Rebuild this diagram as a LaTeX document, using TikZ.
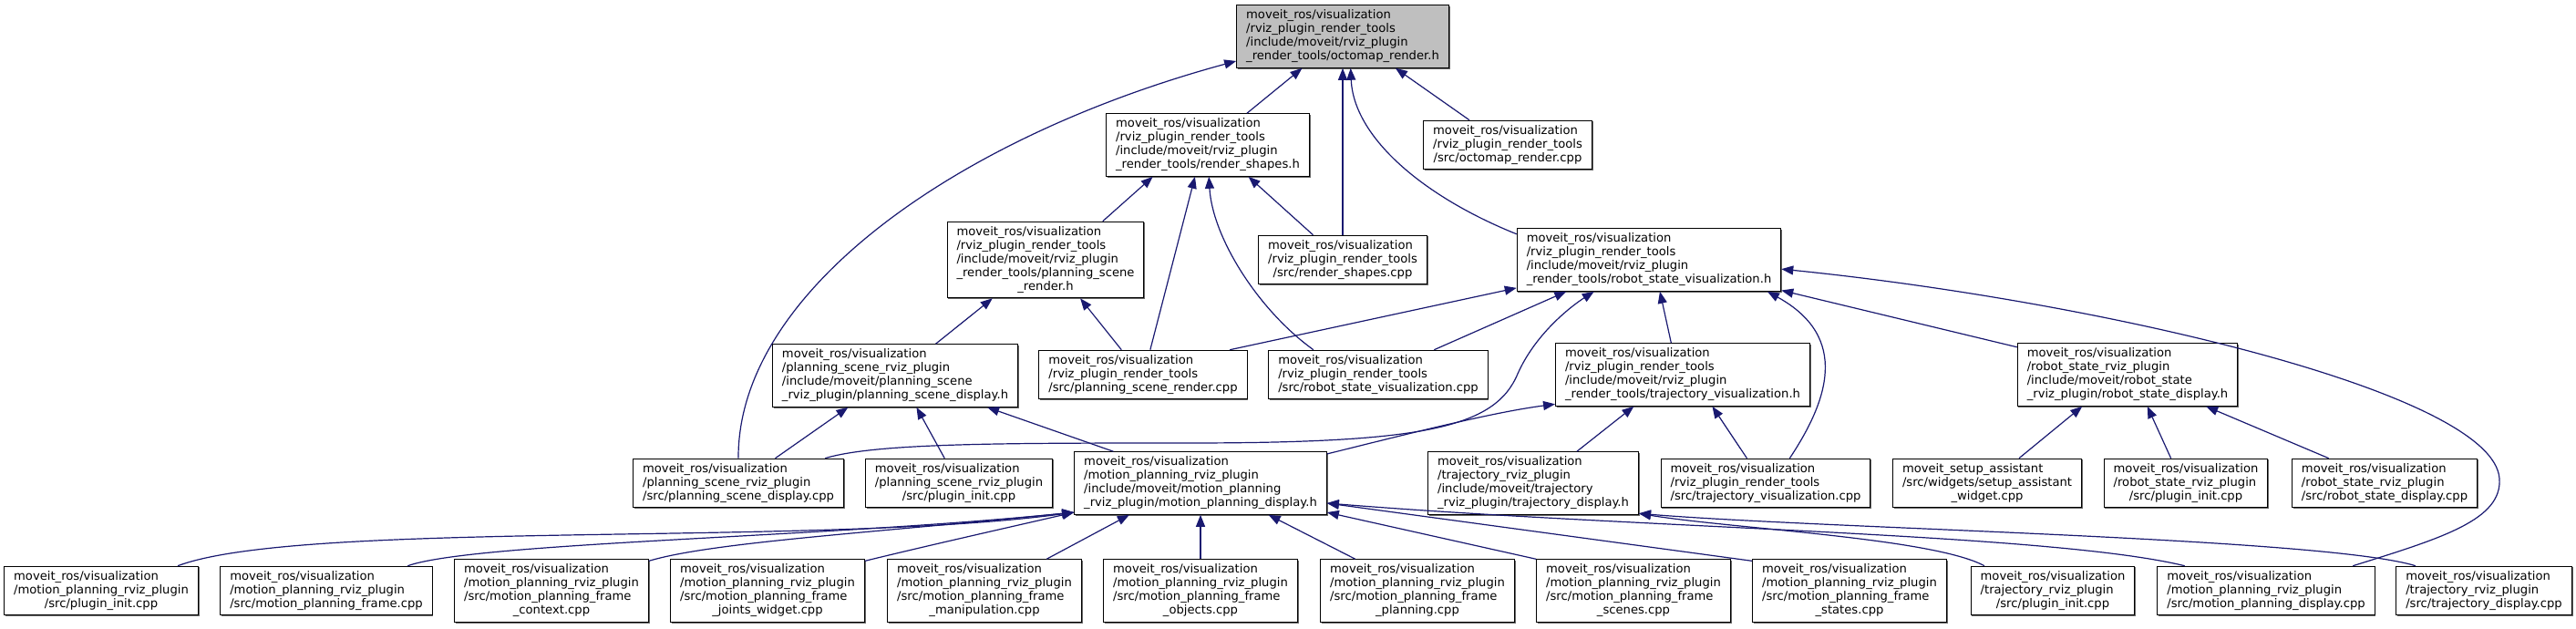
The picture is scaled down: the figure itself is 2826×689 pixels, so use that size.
\documentclass[tikz,border=0pt]{standalone}
\usepackage{fontspec}
\setmainfont{DejaVu Sans}
\usepackage{tikz}
\usetikzlibrary{arrows.meta,shadows}
\usepackage{xcolor}
\definecolor{edgeblue}{RGB}{25,25,112}
\definecolor{rootgrey}{RGB}{191,191,191}

% box label: all lines left, last line centred
\newcommand{\flbl}[2]{\begin{tabular}{@{}l@{}}#1\\\multicolumn{1}{@{}c@{}}{#2}\end{tabular}}

\begin{document}
\begin{tikzpicture}[
    x=1pt, y=-1pt,
    incbox/.style={rectangle, draw=black, line width=1pt, fill=white,
        inner xsep=10.5pt, inner ysep=4.3pt,
        font=\fontsize{13.15pt}{15pt}\selectfont,
        drop shadow={shadow xshift=1.2pt, shadow yshift=-1.2pt, opacity=0.6, fill=black}},
    rootbox/.style={incbox, fill=rootgrey},
    arr/.style={-{Triangle[length=13pt, width=10pt]}, line width=1.2pt, edgeblue}
]
    \useasboundingbox (0,0) rectangle (2826,689);

    % top
    \node[rootbox] (root) at (1473,40) {\flbl{moveit\_ros/visualization\\/rviz\_plugin\_render\_tools\\/include/moveit/rviz\_plugin}{\_render\_tools/octomap\_render.h}};
    \node[incbox] (rsh) at (1325,159) {\flbl{moveit\_ros/visualization\\/rviz\_plugin\_render\_tools\\/include/moveit/rviz\_plugin}{\_render\_tools/render\_shapes.h}};
    \node[incbox] (ocpp) at (1654,159) {\flbl{moveit\_ros/visualization\\/rviz\_plugin\_render\_tools}{/src/octomap\_render.cpp}};

    \node[incbox] (psrh) at (1147,285) {\flbl{moveit\_ros/visualization\\/rviz\_plugin\_render\_tools\\/include/moveit/rviz\_plugin\\\_render\_tools/planning\_scene}{\_render.h}};
    \node[incbox] (rscpp) at (1473,285) {\flbl{moveit\_ros/visualization\\/rviz\_plugin\_render\_tools}{/src/render\_shapes.cpp}};
    \node[incbox] (rsvh) at (1809,285) {\flbl{moveit\_ros/visualization\\/rviz\_plugin\_render\_tools\\/include/moveit/rviz\_plugin}{\_render\_tools/robot\_state\_visualization.h}};

    \node[incbox] (psdh) at (982,412) {\flbl{moveit\_ros/visualization\\/planning\_scene\_rviz\_plugin\\/include/moveit/planning\_scene}{\_rviz\_plugin/planning\_scene\_display.h}};
    \node[incbox] (psrcpp) at (1254,411) {\flbl{moveit\_ros/visualization\\/rviz\_plugin\_render\_tools}{/src/planning\_scene\_render.cpp}};
    \node[incbox] (rsvcpp) at (1512,411) {\flbl{moveit\_ros/visualization\\/rviz\_plugin\_render\_tools}{/src/robot\_state\_visualization.cpp}};
    \node[incbox] (tvh) at (1846,411) {\flbl{moveit\_ros/visualization\\/rviz\_plugin\_render\_tools\\/include/moveit/rviz\_plugin}{\_render\_tools/trajectory\_visualization.h}};
    \node[incbox] (rsdh) at (2334,411) {\flbl{moveit\_ros/visualization\\/robot\_state\_rviz\_plugin\\/include/moveit/robot\_state}{\_rviz\_plugin/robot\_state\_display.h}};

    % middle row
    \node[incbox] (psdcpp) at (810,530) {\flbl{moveit\_ros/visualization\\/planning\_scene\_rviz\_plugin}{/src/planning\_scene\_display.cpp}};
    \node[incbox] (psinit) at (1052,530) {\flbl{moveit\_ros/visualization\\/planning\_scene\_rviz\_plugin}{/src/plugin\_init.cpp}};
    \node[incbox] (mpdh) at (1317,530) {\flbl{moveit\_ros/visualization\\/motion\_planning\_rviz\_plugin\\/include/moveit/motion\_planning}{\_rviz\_plugin/motion\_planning\_display.h}};
    \node[incbox] (tdh) at (1682,530) {\flbl{moveit\_ros/visualization\\/trajectory\_rviz\_plugin\\/include/moveit/trajectory}{\_rviz\_plugin/trajectory\_display.h}};
    \node[incbox] (tvcpp) at (1937,530) {\flbl{moveit\_ros/visualization\\/rviz\_plugin\_render\_tools}{/src/trajectory\_visualization.cpp}};
    \node[incbox] (saw) at (2180,530) {\flbl{moveit\_setup\_assistant\\/src/widgets/setup\_assistant}{\_widget.cpp}};
    \node[incbox] (rsinit) at (2398,530) {\flbl{moveit\_ros/visualization\\/robot\_state\_rviz\_plugin}{/src/plugin\_init.cpp}};
    \node[incbox] (rsdcpp) at (2616,530) {\flbl{moveit\_ros/visualization\\/robot\_state\_rviz\_plugin}{/src/robot\_state\_display.cpp}};

    % bottom row
    \node[incbox] (mpinit) at (111,648) {\flbl{moveit\_ros/visualization\\/motion\_planning\_rviz\_plugin}{/src/plugin\_init.cpp}};
    \node[incbox] (mpframe) at (358,648) {\flbl{moveit\_ros/visualization\\/motion\_planning\_rviz\_plugin}{/src/motion\_planning\_frame.cpp}};
    \node[incbox] (context) at (605,648) {\flbl{moveit\_ros/visualization\\/motion\_planning\_rviz\_plugin\\/src/motion\_planning\_frame}{\_context.cpp}};
    \node[incbox] (joints) at (842,648) {\flbl{moveit\_ros/visualization\\/motion\_planning\_rviz\_plugin\\/src/motion\_planning\_frame}{\_joints\_widget.cpp}};
    \node[incbox] (manip) at (1080,648) {\flbl{moveit\_ros/visualization\\/motion\_planning\_rviz\_plugin\\/src/motion\_planning\_frame}{\_manipulation.cpp}};
    \node[incbox] (objects) at (1317,648) {\flbl{moveit\_ros/visualization\\/motion\_planning\_rviz\_plugin\\/src/motion\_planning\_frame}{\_objects.cpp}};
    \node[incbox] (planning) at (1555,648) {\flbl{moveit\_ros/visualization\\/motion\_planning\_rviz\_plugin\\/src/motion\_planning\_frame}{\_planning.cpp}};
    \node[incbox] (scenes) at (1792,648) {\flbl{moveit\_ros/visualization\\/motion\_planning\_rviz\_plugin\\/src/motion\_planning\_frame}{\_scenes.cpp}};
    \node[incbox] (states) at (2029,648) {\flbl{moveit\_ros/visualization\\/motion\_planning\_rviz\_plugin\\/src/motion\_planning\_frame}{\_states.cpp}};
    \node[incbox] (tinit) at (2252,648) {\flbl{moveit\_ros/visualization\\/trajectory\_rviz\_plugin}{/src/plugin\_init.cpp}};
    \node[incbox] (mpdcpp) at (2486,648) {\flbl{moveit\_ros/visualization\\/motion\_planning\_rviz\_plugin}{/src/motion\_planning\_display.cpp}};
    \node[incbox] (tdcpp) at (2725,648) {\flbl{moveit\_ros/visualization\\/trajectory\_rviz\_plugin}{/src/trajectory\_display.cpp}};

    % into octomap_render.h
    \draw[arr] (rsh.39) -- (root.-142);
    \draw[arr] (ocpp.147) -- (root.-31);
    \draw[arr] (rscpp) -- (root);
    \draw[arr] (rsvh.169) .. controls (1560,215) and (1485,150) .. (root.-76);
    \draw[arr] (psdcpp.north) .. controls (809,320) and (1050,150) .. (root.193);

    % into render_shapes.h
    \draw[arr] (psrh.34) -- (rsh.-150);
    \draw[arr] (psrcpp.74) -- (rsh.-112);
    \draw[arr] (rsvcpp.159) .. controls (1380,340) and (1330,260) .. (rsh.-88);
    \draw[arr] (rscpp.140) -- (rsh.-38);

    % into planning_scene_render.h
    \draw[arr] (psdh.38) -- (psrh.-144);
    \draw[arr] (psrcpp.131) -- (psrh.-48);

    % into robot_state_visualization.h
    \draw[arr] (psrcpp.16) -- (rsvh.192);
    \draw[arr] (rsvcpp.24) -- (rsvh.-159);
    \draw[arr] (psdcpp.16) .. controls (960,486) and (1100,486) .. (1300,486)
        .. controls (1560,486) and (1640,470) .. (1665,410)
        .. controls (1685,365) and (1725,335) .. (rsvh.-150);
    \draw[arr] (tvh.110) -- (rsvh.-71);
    \draw[arr] (tvcpp.46) .. controls (2005,440) and (2030,370) .. (rsvh.-15);
    \draw[arr] (rsdh.166) -- (rsvh.-13);
    \draw[arr] (mpdcpp.16) .. controls (2680,590) and (2745,570) .. (2742,525)
        .. controls (2735,430) and (2300,330) .. (rsvh.-4);

    % into planning_scene_display.h
    \draw[arr] (psdcpp.34) -- (psdh.-146);
    \draw[arr] (psinit.120) -- (psdh.-56);
    \draw[arr] (mpdh.160) -- (psdh.-19);

    % into trajectory_visualization.h
    \draw[arr] (mpdh.13) .. controls (1560,472) and (1640,452) .. (tvh.193);
    \draw[arr] (tdh.36) -- (tvh.-147);
    \draw[arr] (tvcpp.127) -- (tvh.-47);

    % into robot_state_display.h
    \draw[arr] (saw.38) -- (rsdh.-145);
    \draw[arr] (rsinit.121) -- (rsdh.-58);
    \draw[arr] (rsdcpp.156) -- (rsdh.-22);

    % into motion_planning_display.h
    \draw[arr] (mpinit.18) .. controls (330,570) and (900,600) .. (mpdh.193);
    \draw[arr] (mpframe.17) .. controls (520,595) and (900,590) .. (mpdh.193);
    \draw[arr] (context.17) .. controls (780,595) and (950,585) .. (mpdh.193);
    \draw[arr] (joints.17) .. controls (1020,598) and (1100,580) .. (mpdh.193);
    \draw[arr] (manip.27) -- (mpdh.-156);
    \draw[arr] (objects) -- (mpdh);
    \draw[arr] (planning.153) -- (mpdh.-25);
    \draw[arr] (scenes.162) -- (mpdh.-13);
    \draw[arr] (states.163) -- (mpdh.-9);
    \draw[arr] (mpdcpp.163) .. controls (2250,585) and (1800,580) .. (mpdh.-9);

    % into trajectory_display.h
    \draw[arr] (tinit.160) .. controls (2120,590) and (1900,580) .. (tdh.-16);
    \draw[arr] (tdcpp.160) .. controls (2550,590) and (2000,580) .. (tdh.-16);
\end{tikzpicture}
\end{document}
